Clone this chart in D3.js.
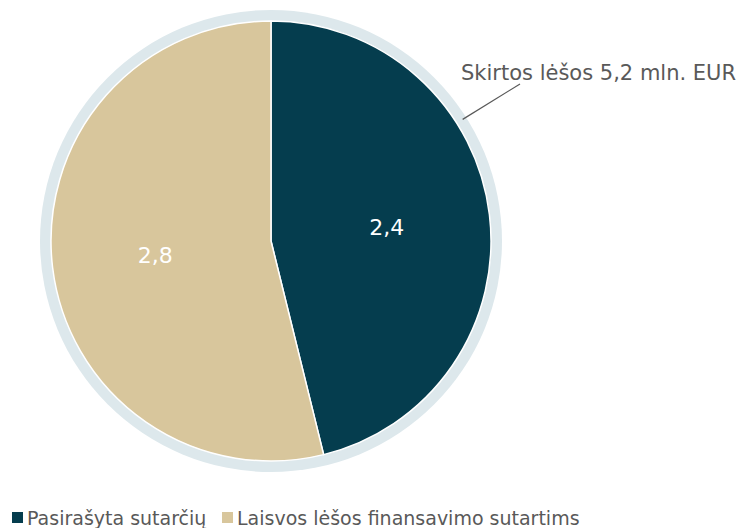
<!DOCTYPE html>
<html>
<head>
<meta charset="utf-8">
<script src="https://cdn.jsdelivr.net/npm/d3@7"></script>
<style>
  body { margin: 0; background: #fff; }
  text { font-family: "DejaVu Sans", sans-serif; }
</style>
</head>
<body>
<div id="chart"></div>
<script>
const categories = ["Pasirašyta sutarčių", "Laisvos lėšos finansavimo sutartims"];
const values = [2.4, 2.8];
const valueLabels = ["2,4", "2,8"];
const totalLabel = "Skirtos lėšos 5,2 mln. EUR";
const colors = ["#053d4e", "#d8c69c"];

const width = 743, height = 528;
const cx = 271, cy = 241, r = 220, ringR = 231;

const svg = d3.select("#chart").append("svg")
    .attr("width", width)
    .attr("height", height);

// outer ring (total)
svg.append("circle")
    .attr("cx", cx).attr("cy", cy).attr("r", ringR)
    .attr("fill", "#dde8ec");

const pie = d3.pie().sort(null).value(d => d)(values);
const arc = d3.arc().innerRadius(0).outerRadius(r);
const labelArc = d3.arc().innerRadius(r * 0.53).outerRadius(r * 0.53);

const g = svg.append("g").attr("transform", `translate(${cx},${cy})`);

g.selectAll("path")
    .data(pie)
    .enter().append("path")
    .attr("d", arc)
    .attr("fill", (d, i) => colors[i])
    .attr("stroke", "#fff")
    .attr("stroke-width", 1.5);

g.selectAll(".val")
    .data(pie)
    .enter().append("text")
    .attr("class", "val")
    .attr("transform", d => `translate(${labelArc.centroid(d)})`)
    .attr("text-anchor", "middle")
    .attr("dy", "0.35em")
    .attr("fill", "#fff")
    .attr("font-size", 22)
    .text((d, i) => valueLabels[i]);

// annotation for the ring
const a = Math.PI * 0.32;
const p0 = [cx + Math.sin(a) * (ringR - 4), cy - Math.cos(a) * (ringR - 4)];
svg.append("line")
    .attr("x1", p0[0]).attr("y1", p0[1])
    .attr("x2", 520).attr("y2", 84)
    .attr("stroke", "#595959")
    .attr("stroke-width", 1.2);
svg.append("text")
    .attr("x", 461).attr("y", 80)
    .attr("fill", "#595959")
    .attr("font-size", 21)
    .text(totalLabel);

// legend
const legend = svg.append("g").attr("transform", "translate(12,518)");
const legX = [0, 210];
categories.forEach((c, i) => {
  const item = legend.append("g").attr("transform", `translate(${legX[i]},0)`);
  item.append("rect")
      .attr("x", 0).attr("y", -6).attr("width", 11).attr("height", 11)
      .attr("fill", colors[i]);
  item.append("text")
      .attr("x", 15).attr("y", 0).attr("dy", "0.35em")
      .attr("fill", "#595959")
      .attr("font-size", 19)
      .text(c);
});
</script>
</body>
</html>
